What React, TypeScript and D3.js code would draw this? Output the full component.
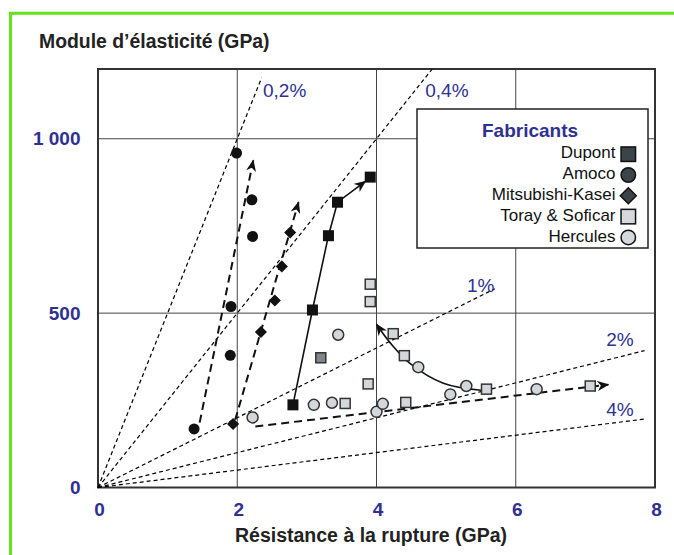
import * as d3 from "d3";

// values: [strength (GPa), modulus (GPa)]
const amoco = [[1.99, 959], [2.21, 825], [2.22, 720], [1.91, 519], [1.9, 379], [1.38, 168]];
const dupont = [[2.8, 237], [3.08, 509], [3.31, 722], [3.44, 818], [3.91, 890]];
const dupontGray = [[3.2, 372]];
const mitsubishi = [[2.76, 731], [2.64, 634], [2.54, 536], [2.34, 446], [1.94, 182]];
const toray = [[3.91, 583], [3.91, 533], [4.24, 441], [4.4, 378], [3.88, 297], [3.55, 241], [4.42, 244], [5.58, 282], [7.07, 291]];
const hercules = [[2.22, 201], [3.1, 237], [3.36, 243], [3.45, 438], [4.0, 217], [4.09, 240], [4.6, 345], [5.06, 267], [5.29, 291], [6.3, 282]];

// trend arrows
const amocoTrend = [[1.46, 186], [2.23, 938]];
const mitsubishiTrend = [[1.97, 194], [2.88, 818]];
const dupontTrend = [[2.8, 237], [3.08, 509], [3.31, 722], [3.44, 818], [3.84, 878]];
const toraySweep = [[5.5, 279], [4.96, 299], [4.48, 356], [4.2, 414], [4.0, 468]];
const herculesTrend = [[2.26, 175], [7.33, 295]];

// iso-strain lines: strain (fraction), end strength, label
const strains = [
  { e: 0.002, end: 2.35, label: "0,2%" },
  { e: 0.004, end: 4.8, label: "0,4%" },
  { e: 0.01, end: 5.7, label: "1%" },
  { e: 0.02, end: 7.85, label: "2%" },
  { e: 0.04, end: 7.85, label: "4%" },
];
const strainLabelPos = [[2.37, 1120], [4.7, 1120], [5.3, 560], [7.3, 405], [7.3, 205]];

const xTicks = [0, 2, 4, 6, 8];
const yTicks = [0, 500, 1000];
const yTickLabels = ["0", "500", "1 000"];
const xGrid = [2, 4, 6];
const yGrid = [500, 1000];

const legendItems = [
  { name: "Dupont", shape: "square", fill: "#3b4448" },
  { name: "Amoco", shape: "circle", fill: "#3b4448" },
  { name: "Mitsubishi-Kasei", shape: "diamond", fill: "#3b4448" },
  { name: "Toray & Soficar", shape: "square", fill: "#d5d9dd" },
  { name: "Hercules", shape: "circle", fill: "#d5d9dd" },
];

const W = 674;
const H = 555;
const x = d3.scaleLinear().domain([0, 8]).range([98, 655]);
const y = d3.scaleLinear().domain([0, 1200]).range([487.5, 69]);
const navy = "#2e3192";
const font = "'Liberation Sans', Arial, sans-serif";

const line = d3.line().x((d) => x(d[0])).y((d) => y(d[1]));
const curve = d3.line().x((d) => x(d[0])).y((d) => y(d[1])).curve(d3.curveCatmullRom);

function Marker({ shape, cx, cy, s, fill, stroke, sw }) {
  if (shape === "circle")
    return <circle cx={cx} cy={cy} r={s / 2} fill={fill} stroke={stroke} strokeWidth={sw} />;
  if (shape === "diamond") {
    const h = s * 0.55;
    return (
      <path d={`M${cx},${cy - h}L${cx + h},${cy}L${cx},${cy + h}L${cx - h},${cy}Z`} fill={fill} stroke={stroke} strokeWidth={sw} />
    );
  }
  return <rect x={cx - s / 2} y={cy - s / 2} width={s} height={s} fill={fill} stroke={stroke} strokeWidth={sw} />;
}

export default function App() {
  const lx = 417, ly = 109, lw = 231, lh = 139;
  return (
    <svg width={W} height={H} style={{ position: "absolute", left: 0, top: 0, fontFamily: font }}>
      <defs>
        <marker id="arr" viewBox="0 0 12 10" refX="11" refY="5" markerWidth="12" markerHeight="10" markerUnits="userSpaceOnUse" orient="auto">
          <path d="M0,0L12,5L0,10L3.5,5Z" fill="#111" />
        </marker>
      </defs>
      <rect width={W} height={H} fill="#fff" />
      {/* green frame */}
      <line x1={9} x2={W} y1={13.3} y2={13.3} stroke="#62e31c" strokeWidth={3} />
      <line x1={10.5} x2={10.5} y1={12} y2={H} stroke="#62e31c" strokeWidth={3} />

      {/* grid */}
      <g stroke="#444" strokeWidth={1}>
        {xGrid.map((v) => (
          <line key={v} x1={x(v)} x2={x(v)} y1={y(1200)} y2={y(0)} />
        ))}
        {yGrid.map((v) => (
          <line key={v} x1={x(0)} x2={x(8)} y1={y(v)} y2={y(v)} />
        ))}
      </g>
      <rect x={x(0)} y={y(1200)} width={x(8) - x(0)} height={y(0) - y(1200)} fill="none" stroke="#333" strokeWidth={2} />

      {/* iso-strain lines: E = sigma / strain */}
      <g stroke="#000" strokeWidth={1.2} strokeDasharray="4,3" fill="none">
        {strains.map((s) => (
          <line key={s.label} x1={x(0)} y1={y(0)} x2={x(s.end)} y2={y(s.end / s.e)} />
        ))}
      </g>
      {strains.map((s, i) => (
        <text key={s.label} x={x(strainLabelPos[i][0])} y={y(strainLabelPos[i][1])} fontSize={19} fill={navy}>
          {s.label}
        </text>
      ))}

      {/* trends */}
      <g fill="none" stroke="#111" strokeWidth={2}>
        <path d={line(amocoTrend)} strokeDasharray="8,5" markerEnd="url(#arr)" />
        <path d={line(mitsubishiTrend)} strokeDasharray="8,5" markerEnd="url(#arr)" />
        <path d={line(herculesTrend)} strokeDasharray="8,5" markerEnd="url(#arr)" />
        <path d={line(dupontTrend)} strokeWidth={1.6} markerEnd="url(#arr)" />
        <path d={curve(toraySweep)} strokeWidth={1.6} markerEnd="url(#arr)" />
      </g>

      {/* points */}
      {toray.map((d, i) => (
        <Marker key={"t" + i} shape="square" cx={x(d[0])} cy={y(d[1])} s={10} fill="#d3d7db" stroke="#333" sw={1.5} />
      ))}
      {hercules.map((d, i) => (
        <Marker key={"h" + i} shape="circle" cx={x(d[0])} cy={y(d[1])} s={11} fill="#d3d7db" stroke="#333" sw={1.5} />
      ))}
      {dupontGray.map((d, i) => (
        <Marker key={"g" + i} shape="square" cx={x(d[0])} cy={y(d[1])} s={10} fill="#7d868c" stroke="#333" sw={1.5} />
      ))}
      {amoco.map((d, i) => (
        <Marker key={"a" + i} shape="circle" cx={x(d[0])} cy={y(d[1])} s={11} fill="#111" stroke="none" sw={0} />
      ))}
      {dupont.map((d, i) => (
        <Marker key={"d" + i} shape="square" cx={x(d[0])} cy={y(d[1])} s={11} fill="#111" stroke="none" sw={0} />
      ))}
      {mitsubishi.map((d, i) => (
        <Marker key={"m" + i} shape="diamond" cx={x(d[0])} cy={y(d[1])} s={11} fill="#111" stroke="none" sw={0} />
      ))}

      {/* legend */}
      <rect x={lx} y={ly} width={lw} height={lh} fill="#fff" stroke="#222" strokeWidth={1.5} />
      <text x={530} y={137.3} textAnchor="middle" fontSize={19} fontWeight="bold" fill={navy}>
        Fabricants
      </text>
      {legendItems.map((it, i) => (
        <g key={it.name}>
          <text x={615.5} y={158.3 + i * 20.8} textAnchor="end" fontSize={17} fill="#111">
            {it.name}
          </text>
          <Marker shape={it.shape} cx={628.3} cy={154.2 + i * 20.8} s={14.5} fill={it.fill} stroke="#111" sw={1.5} />
        </g>
      ))}

      {/* axes labels */}
      {xTicks.map((v) => (
        <text key={v} x={x(v) + 1.5} y={516} textAnchor="middle" fontSize={19} fontWeight="bold" fill={navy}>
          {v}
        </text>
      ))}
      {yTicks.map((v, i) => (
        <text key={v} x={80.5} y={y(v) + 6.5} textAnchor="end" fontSize={19} fontWeight="bold" fill={navy}>
          {yTickLabels[i]}
        </text>
      ))}
      <text x={39} y={48} fontSize={19.4} fontWeight="bold" fill="#222">
        Module d’élasticité (GPa)
      </text>
      <text x={371} y={541.5} textAnchor="middle" fontSize={19.5} fontWeight="bold" fill="#222">
        Résistance à la rupture (GPa)
      </text>
    </svg>
  );
}
